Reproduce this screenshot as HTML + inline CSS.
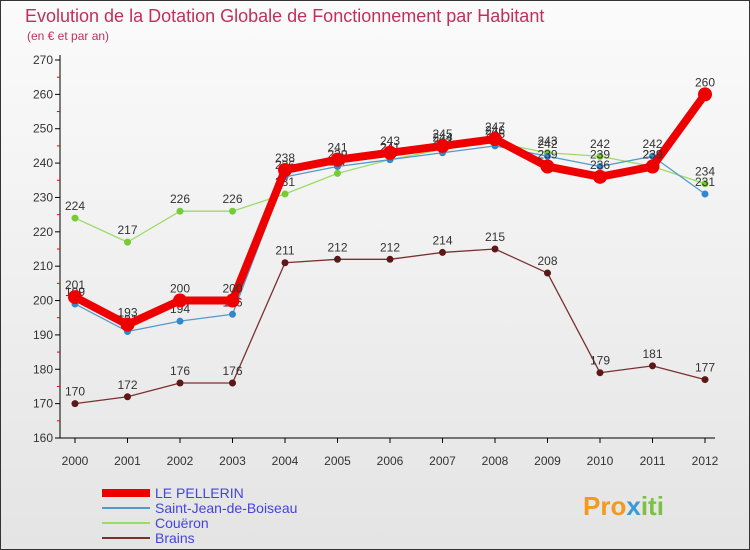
<!DOCTYPE html>
<html><head><meta charset="utf-8"><style>
body{margin:0;}
#wrap{position:relative;width:750px;height:550px;overflow:hidden;font-family:"Liberation Sans",sans-serif;background:linear-gradient(#fbfbfb,#e4e4e4);}
</style></head><body>
<div id="wrap">
<svg id="svg" width="750" height="550" xmlns="http://www.w3.org/2000/svg">
<rect x="0.5" y="0.5" width="749" height="549" fill="none" stroke="#333"/>
<text x="25" y="22" font-size="18" fill="#c0305a">Evolution de la Dotation Globale de Fonctionnement par Habitant</text>
<text x="27" y="40" font-size="12" fill="#c0305a">(en € et par an)</text>
<g id="axes"></g><g id="series"></g><g id="legend"></g>
<text x="583" y="515" font-size="26" font-weight="bold" fill="#f39a1e">Pro<tspan fill="#3a9ad9">x</tspan><tspan fill="#7cc242">iti</tspan></text>
</svg></div>
<script>
const years=[2000,2001,2002,2003,2004,2005,2006,2007,2008,2009,2010,2011,2012];
const pellerin=[201,193,200,200,238,241,243,245,247,239,236,239,260];
const saintJean=[199,191,194,196,236,239,241,243,245,242,239,242,231];
const coueron=[224,217,226,226,231,237,241,244,246,243,242,239,234];
const brains=[170,172,176,176,211,212,212,214,215,208,179,181,177];
const yTicks=[160,170,180,190,200,210,220,230,240,250,260,270];
const NS="http://www.w3.org/2000/svg";
const X=i=>75+i*52.5;
const Y=v=>438-(v-160)*(378/110);
function mk(tag,attrs,parent){const e=document.createElementNS(NS,tag);for(const k in attrs)e.setAttribute(k,attrs[k]);parent.appendChild(e);return e;}
const ax=document.getElementById('axes');
let l=mk('line',{x1:60,y1:55,x2:60,y2:438,stroke:'#000'},ax);


l=mk('line',{x1:60,y1:438,x2:715,y2:438,stroke:'#000'},ax);


yTicks.forEach(v=>{
  const t=mk('line',{x1:55,y1:Y(v),x2:60,y2:Y(v),stroke:'#000'},ax);
  
  
  if(v<270){const m=mk('line',{x1:57,y1:Y(v+5),x2:60,y2:Y(v+5),stroke:'#e00'},ax);
  
  }
  const tx=mk('text',{x:53,y:Y(v)+4,'font-size':12,'text-anchor':'end',fill:'#333'},ax);tx.textContent=v;
  
  
});
years.forEach((y,i)=>{
  const t=mk('line',{x1:X(i),y1:438,x2:X(i),y2:443,stroke:'#000'},ax);
  
  
  const tx=mk('text',{x:X(i),y:465,'font-size':12,'text-anchor':'middle',fill:'#333'},ax);tx.textContent=y;
  
  
});
const sg=document.getElementById('series');
const defs=[
 {d:brains,c:'#7a3030',mc:'#5a1818',w:1.3,r:3.5,n:'brains'},
 {d:coueron,c:'#99dd66',mc:'#77cc33',w:1.3,r:3.5,n:'coueron'},
 {d:saintJean,c:'#5599cc',mc:'#3388cc',w:1.3,r:3.5,n:'saint-jean-de-boiseau'},
 {d:pellerin,c:'#ee0000',mc:'#ee0000',w:8,r:7,n:'le-pellerin'}];
defs.forEach(s=>{
  const p=mk('polyline',{points:s.d.map((v,i)=>X(i)+','+Y(v)).join(' '),fill:'none',stroke:s.c,'stroke-width':s.w,'stroke-linejoin':'round'},sg);
  
  
  s.d.forEach((v,i)=>{
    const c=mk('circle',{cx:X(i),cy:Y(v),r:s.r,fill:s.mc},sg);
    
    
    const t=mk('text',{x:X(i),y:Y(v)-8,'font-size':12,'text-anchor':'middle',fill:'#333'},sg);t.textContent=v;
    
    
  });
});
const lg=document.getElementById('legend');
const leg=[{n:'LE PELLERIN',c:'#ee0000',w:8},{n:'Saint-Jean-de-Boiseau',c:'#5599cc',w:2},{n:'Couëron',c:'#99dd66',w:2},{n:'Brains',c:'#7a3030',w:2}];
leg.forEach((e,i)=>{
  const y=493+i*15;
  const ln=mk('line',{x1:102,y1:y,x2:150,y2:y,stroke:e.c,'stroke-width':e.w},lg);
  
  
  const t=mk('text',{x:155,y:y+5,'font-size':14,fill:'#4444dd'},lg);t.textContent=e.n;
  
  
});
</script>
</body></html>
